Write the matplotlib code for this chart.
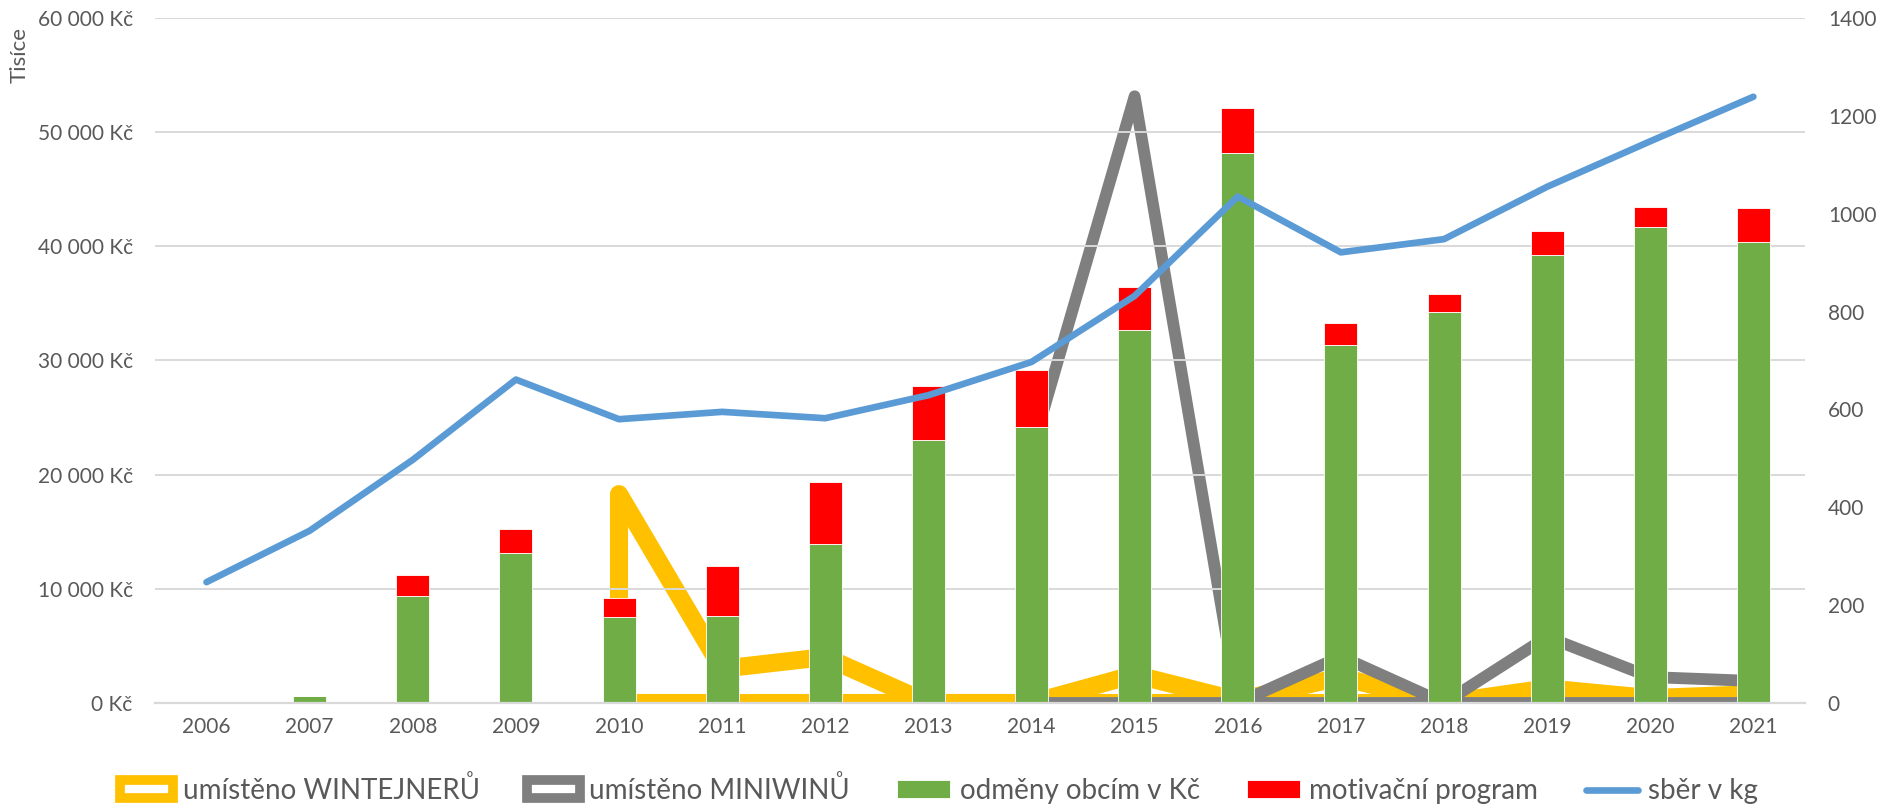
import matplotlib.pyplot as plt
import numpy as np
from matplotlib.ticker import FuncFormatter
from matplotlib.patches import Patch

plt.rcParams['font.family'] = ['Lato', 'DejaVu Sans']

nan = np.nan
years = ['2006', '2007', '2008', '2009', '2010', '2011', '2012', '2013',
         '2014', '2015', '2016', '2017', '2018', '2019', '2020', '2021']
# v tisicich Kc
odmeny = [0, 650, 9400, 13100, 7500, 7600, 13900, 23000,
          24150, 32700, 48150, 31330, 34220, 39240, 41720, 40350]
motivace = [0, 0, 1800, 2100, 1700, 4400, 5500, 4800,
            5000, 3750, 4000, 1930, 1600, 2070, 1720, 2980]
# prava osa
sber_kg = [247, 352, 497, 661, 580, 595, 582, 629,
           697, 832, 1035, 921, 948, 1055, 1148, 1239]
wintejnery = [nan, nan, nan, nan, 427, 70, 94, 0,
              0, 58, 5, 53, 0, 30, 10, 18]
miniwiny = [nan, nan, nan, nan, nan, nan, nan, nan,
            514, 1240, 0, 95, 0, 135, 53, 45]

grey_txt = '#595959'
x = np.arange(len(years))

fig = plt.figure(figsize=(18.78, 8.06), dpi=100)
ax = fig.add_axes([0.0825, 0.1278, 0.8786, 0.8499])
ax_area = ax.twinx()
ax_kg = ax.twinx()
ax_area.set_zorder(1)
ax.set_zorder(2)
ax_kg.set_zorder(3)
ax.patch.set_visible(False)

# mrizka (odpovida leve ose po 10 000)
ax_area.set_ylim(0, 1400)
ax_area.set_yticks(np.linspace(0, 1400, 7))
ax_area.grid(axis='y', color='#D9D9D9', linewidth=1.4)
ax_area.tick_params(axis='y', length=0, labelright=False)

# plochy bez vyplne, jen tlusty obrys
ax_area.fill_between(x, wintejnery, 0, facecolor='none', edgecolor='#FFC000',
                     linewidth=13, joinstyle='round')
ax_area.fill_between(x, miniwiny, 0, facecolor='none', edgecolor='#7F7F7F',
                     linewidth=8.5, joinstyle='round')

b1 = ax.bar(x, odmeny, width=0.32, color='#70AD47', edgecolor='white', linewidth=0.6)
b2 = ax.bar(x, motivace, width=0.32, bottom=odmeny, color='#FF0000',
            edgecolor='white', linewidth=0.6)

ln, = ax_kg.plot(x, sber_kg, color='#5B9BD5', linewidth=4.8, solid_capstyle='round',
                 solid_joinstyle='round')

ax.set_xlim(-0.5, 15.5)
ax.set_ylim(0, 60000)
ax.set_yticks(np.arange(0, 60001, 10000))
ax.yaxis.set_major_formatter(FuncFormatter(lambda v, p: f"{int(v):,}".replace(',', ' ') + ' Kč'))
ax.set_xticks(x)
ax.set_xticklabels(years)
ax.tick_params(axis='y', length=0, pad=16, labelsize=15, labelcolor=grey_txt)
ax.tick_params(axis='x', length=0, pad=10, labelsize=15, labelcolor=grey_txt)

ax_kg.set_ylim(0, 1400)
ax_kg.set_yticks(np.arange(0, 1401, 200))
ax_kg.tick_params(axis='y', length=0, pad=16.5, labelsize=15, labelcolor=grey_txt)

for a in (ax, ax_area, ax_kg):
    for s in a.spines.values():
        s.set_visible(False)
ax.spines['bottom'].set_visible(True)
ax.spines['bottom'].set_color('#D9D9D9')
ax.spines['bottom'].set_linewidth(1.6)

fig.text(20 / 1878, 1 - 55 / 806, 'Tisíce', rotation=90, ha='center', va='center',
         fontsize=16, color=grey_txt)

h_win = Patch(facecolor='white', edgecolor='#FFC000', linewidth=7, joinstyle='round')
h_mini = Patch(facecolor='white', edgecolor='#7F7F7F', linewidth=7, joinstyle='round')

fig.legend([h_win, h_mini, b1, b2, ln],
           ['umístěno WINTEJNERŮ', 'umístěno MINIWINŮ', 'odměny obcím v Kč',
            'motivační program', 'sběr v kg'],
           loc='center', bbox_to_anchor=(0.5, 0.02), ncol=5, frameon=False,
           fontsize=20, handlelength=1.9, handleheight=0.6, handletextpad=0.35,
           columnspacing=1.7, labelcolor=grey_txt, borderpad=0)

fig.savefig('out.png', dpi=100)
